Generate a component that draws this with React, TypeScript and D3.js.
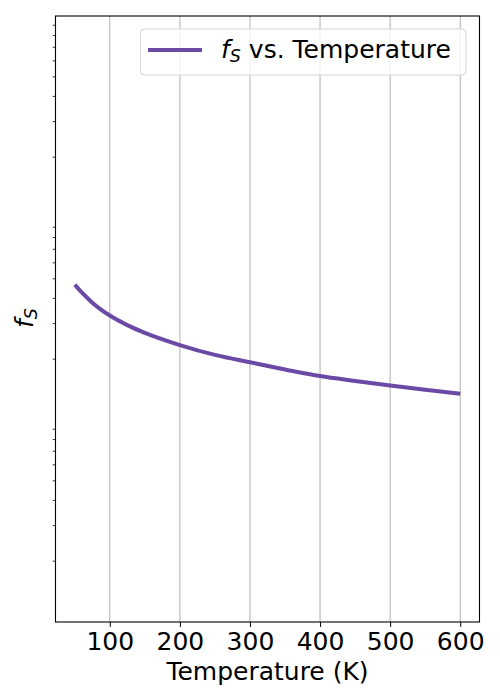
import { useEffect, useRef } from 'react';
import * as d3 from 'd3';

// Temperature (K) and f_S (log y axis, no labels)
const temperatures = [50, 60, 75, 100, 125, 150, 200, 250, 300, 350, 400, 450, 500, 550, 600];
const fsValues = [46.8, 42.8, 38.1, 32.9, 29.5, 27.0, 23.5, 21.0, 19.3, 17.8, 16.5, 15.6, 14.8, 14.1, 13.5];
const xTickValues = [100, 200, 300, 400, 500, 600];
const xDomain: [number, number] = [22.5, 627.5];
const yDomain: [number, number] = [1, 1000];

const LINE_COLOR = '#6a4aa5';
const FONT = "'DejaVu Sans', sans-serif";
const FS = 25;

export default function App() {
  const svgRef = useRef<SVGSVGElement>(null);

  useEffect(() => {
    if (!svgRef.current) return;
    const svg = d3.select(svgRef.current);
    svg.selectAll('*').remove();

    const margin = { top: 16, right: 20.5, bottom: 78, left: 55.5 };
    const width = 500 - margin.left - margin.right;
    const height = 700 - margin.top - margin.bottom;

    const g = svg.append('g').attr('transform', `translate(${margin.left},${margin.top})`);

    const x = d3.scaleLinear().domain(xDomain).range([0, width]);
    const y = d3.scaleLog().domain(yDomain).range([height, 0]);

    // Vertical grid lines only
    g.append('g')
      .selectAll('line')
      .data(xTickValues)
      .enter()
      .append('line')
      .attr('x1', d => x(d))
      .attr('x2', d => x(d))
      .attr('y1', 0)
      .attr('y2', height)
      .attr('stroke', '#b0b0b0')
      .attr('stroke-width', 1);

    // Data line
    const points = temperatures.map((t, i) => ({ t, v: fsValues[i] }));
    const line = d3
      .line<typeof points[0]>()
      .x(d => x(d.t))
      .y(d => y(d.v))
      .curve(d3.curveMonotoneX);

    g.append('path')
      .datum(points)
      .attr('d', line)
      .attr('fill', 'none')
      .attr('stroke', LINE_COLOR)
      .attr('stroke-width', 4)
      .attr('stroke-linecap', 'butt');

    // X axis
    const xAxis = d3.axisBottom(x).tickValues(xTickValues).tickSize(4.9);
    const xg = g.append('g').attr('transform', `translate(0,${height})`).call(xAxis);
    xg.select('.domain').remove();
    xg.selectAll('.tick line').attr('stroke', '#000').attr('stroke-width', 1);
    xg.selectAll('text')
      .attr('font-family', FONT)
      .attr('font-size', FS)
      .attr('fill', '#000')
      .attr('y', 28)
      .attr('dy', 0);

    // Y axis: only minor log ticks, no labels
    const minorTicks = y.ticks().filter(d => Math.abs(Math.log10(d) - Math.round(Math.log10(d))) > 1e-6);
    g.append('g')
      .selectAll('line')
      .data(minorTicks)
      .enter()
      .append('line')
      .attr('x1', -2.8)
      .attr('x2', 0)
      .attr('y1', d => y(d))
      .attr('y2', d => y(d))
      .attr('stroke', '#000')
      .attr('stroke-width', 0.8);

    // Frame
    g.append('rect')
      .attr('x', 0)
      .attr('y', 0)
      .attr('width', width)
      .attr('height', height)
      .attr('fill', 'none')
      .attr('stroke', '#000')
      .attr('stroke-width', 1.1);

    // X label
    svg.append('text')
      .attr('x', margin.left + width / 2)
      .attr('y', 680)
      .attr('text-anchor', 'middle')
      .attr('font-family', FONT)
      .attr('font-size', FS)
      .attr('fill', '#000')
      .text('Temperature (K)');

    // Y label f_S
    const yl = svg.append('text')
      .attr('transform', 'translate(33,318) rotate(-90)')
      .attr('text-anchor', 'middle')
      .attr('font-family', FONT)
      .attr('font-size', FS)
      .attr('fill', '#000');
    yl.append('tspan').attr('font-style', 'italic').text('f');
    yl.append('tspan').attr('font-style', 'italic').attr('font-size', 17.5).attr('dy', 4).text('S');

    // Legend
    const lg = svg.append('g');
    lg.append('rect')
      .attr('x', 140.5)
      .attr('y', 29)
      .attr('width', 325.5)
      .attr('height', 46)
      .attr('rx', 4)
      .attr('fill', 'white')
      .attr('fill-opacity', 0.8)
      .attr('stroke', '#d6d6d6')
      .attr('stroke-width', 1);
    lg.append('line')
      .attr('x1', 148)
      .attr('x2', 202)
      .attr('y1', 50)
      .attr('y2', 50)
      .attr('stroke', LINE_COLOR)
      .attr('stroke-width', 4);
    const lt = lg.append('text')
      .attr('x', 221)
      .attr('y', 58)
      .attr('font-family', FONT)
      .attr('font-size', FS)
      .attr('fill', '#000');
    lt.append('tspan').attr('font-style', 'italic').text('f');
    lt.append('tspan').attr('font-style', 'italic').attr('font-size', 17.5).attr('dy', 4).text('S');
    lt.append('tspan').attr('dy', -4).text(' vs. Temperature');
  }, []);

  return (
    <div style={{ position: 'absolute', left: 0, top: 0, background: '#fff' }}>
      <svg ref={svgRef} width={500} height={700} style={{ display: 'block' }}></svg>
    </div>
  );
}
